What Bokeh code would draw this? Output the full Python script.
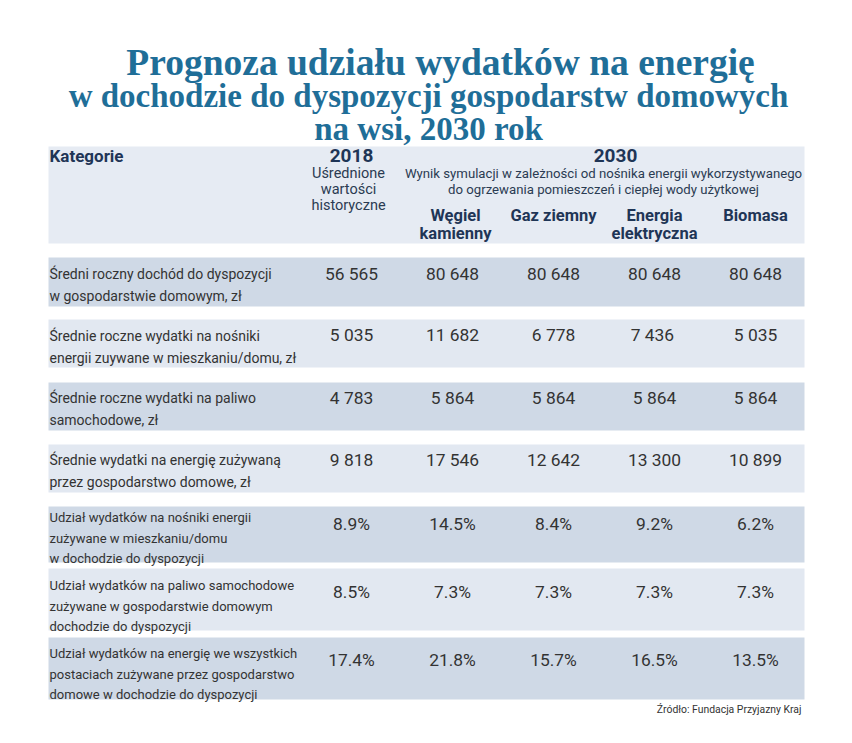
from bokeh.plotting import figure
from bokeh.models import Range1d, ColumnDataSource
from bokeh.core.properties import value
from bokeh.embed import file_html
from bokeh.resources import INLINE

# ---------------- data ----------------
title_lines = ["Prognoza udziału wydatków na energię",
               "w dochodzie do dyspozycji gospodarstw domowych",
               "na wsi, 2030 rok"]

categories = [
    "Średni roczny dochód do dyspozycji\nw gospodarstwie domowym, zł",
    "Średnie roczne wydatki na nośniki\nenergii zuywane w mieszkaniu/domu, zł",
    "Średnie roczne wydatki na paliwo\nsamochodowe, zł",
    "Średnie wydatki na energię zużywaną\nprzez gospodarstwo domowe, zł",
    "Udział wydatków na nośniki energii\nzużywane w mieszkaniu/domu\nw dochodzie do dyspozycji",
    "Udział wydatków na paliwo samochodowe\nzużywane w gospodarstwie domowym\ndochodzie do dyspozycji",
    "Udział wydatków na energię we wszystkich\npostaciach zużywane przez gospodarstwo\ndomowe w dochodzie do dyspozycji",
]
val_2018 = ["56 565", "5 035", "4 783", "9 818", "8.9%", "8.5%", "17.4%"]
val_wegiel = ["80 648", "11 682", "5 864", "17 546", "14.5%", "7.3%", "21.8%"]
val_gaz = ["80 648", "6 778", "5 864", "12 642", "8.4%", "7.3%", "15.7%"]
val_energia = ["80 648", "7  436", "5 864", "13 300", "9.2%", "7.3%", "16.5%"]
val_biomasa = ["80 648", "5 035", "5 864", "10 899", "6.2%", "7.3%", "13.5%"]

col_2030_names = ["Węgiel\nkamienny", "Gaz ziemny", "Energia\nelektryczna", "Biomasa"]
header_2018 = "Uśrednione\nwartości\nhistoryczne"
header_2030 = "Wynik symulacji w zależności od nośnika energii wykorzystywanego\ndo ogrzewania pomieszczeń i ciepłej wody użytkowej"
source_text = "Źródło: Fundacja Przyjazny Kraj"

# ---------------- layout ----------------
W, H = 836, 727
p = figure(width=W, height=H, output_backend="svg", toolbar_location=None,
           x_range=Range1d(0, W), y_range=Range1d(H, 0),
           min_border=0, outline_line_color=None)
p.axis.visible = False
p.grid.visible = False
p.background_fill_color = "white"
p.border_fill_color = "white"

TITLE_C = "#1f6e98"
NAVY = "#1f3556"
TXT = "#333333"
DARK = "#cfd9e6"
LIGHT = "#e2e8f1"
HEAD = "#e6ebf3"
ROB = value("Roboto")

x_left, x_right = 48, 804
col_x = [351, 452, 553, 654, 755]

# title
title_sizes = ["37.5px", "33px", "33px"]
title_x = [440, 428, 428]
for i, t in enumerate(title_lines):
    p.text(x=[title_x[i]], y=[62 + i * 33], text=[t], text_align="center",
           text_baseline="alphabetic", text_font=value("Liberation Serif"),
           text_font_style="bold", text_font_size=title_sizes[i], text_color=TITLE_C)

# header band
p.quad(left=[x_left], right=[x_right], top=[146], bottom=[243],
       fill_color=HEAD, line_color=None)
p.text(x=[49], y=[155], text=["Kategorie"], text_align="left", text_baseline="middle",
       text_font=ROB, text_font_style="bold", text_font_size="17px", text_color=NAVY)
p.text(x=[col_x[0]], y=[155], text=["2018"], text_align="center", text_baseline="middle",
       text_font=ROB, text_font_style="bold", text_font_size="19px", text_color=NAVY)
p.text(x=[615], y=[155], text=["2030"], text_align="center", text_baseline="middle",
       text_font=ROB, text_font_style="bold", text_font_size="19px", text_color=NAVY)
for j, ln in enumerate(header_2018.split("\n")):
    p.text(x=[348], y=[173 + j * 16], text=[ln], text_align="center", text_baseline="middle",
           text_font=ROB, text_font_size="14.5px", text_color="#2b3b52")
for j, ln in enumerate(header_2030.split("\n")):
    p.text(x=[603], y=[173 + j * 16], text=[ln], text_align="center", text_baseline="middle",
           text_font=ROB, text_font_size="13.2px", text_color="#2b3b52")
for k, name in enumerate(col_2030_names):
    for j, ln in enumerate(name.split("\n")):
        p.text(x=[col_x[k + 1] + (3 if k == 0 else 0)], y=[215 + j * 18], text=[ln],
               text_align="center", text_baseline="middle", text_font=ROB,
               text_font_style="bold", text_font_size="16.5px", text_color=NAVY)

# rows
row_top = [257, 319, 382, 444, 506, 568, 637]
row_bot = [306, 367, 430, 492, 562, 630, 699]
line0 = [273, 335, 397, 459, 517, 585, 653]
val_y = [273, 334, 397, 459, 523, 591, 659]
fills = [DARK if i % 2 == 0 else LIGHT for i in range(len(categories))]
p.quad(left=[x_left] * 7, right=[x_right] * 7, top=row_top, bottom=row_bot,
       fill_color=fills, line_color=None)

lx, ly, lt, ls = [], [], [], []
for i, cat in enumerate(categories):
    lines = cat.split("\n")
    step = 22 if len(lines) == 2 else 20.5
    for j, ln in enumerate(lines):
        lx.append(49)
        ly.append(line0[i] + j * step)
        lt.append(ln)
        ls.append("14px" if len(lines) == 2 else "13px")
p.text(x="x", y="y", text="t", text_font_size="s",
       source=ColumnDataSource(dict(x=lx, y=ly, t=lt, s=ls)),
       text_align="left", text_baseline="middle", text_font=ROB, text_color=TXT)

vx, vy, vt = [], [], []
for c, col in enumerate([val_2018, val_wegiel, val_gaz, val_energia, val_biomasa]):
    for i, v in enumerate(col):
        vx.append(col_x[c])
        vy.append(val_y[i])
        vt.append(v)
p.text(x="x", y="y", text="t", source=ColumnDataSource(dict(x=vx, y=vy, t=vt)),
       text_align="center", text_baseline="middle", text_font=ROB,
       text_font_size="17.4px", text_color=TXT)

p.text(x=[801], y=[709], text=[source_text], text_align="right", text_baseline="middle",
       text_font=ROB, text_font_size="10.4px", text_color=TXT)

open("out.html", "w").write(file_html(p, INLINE))
